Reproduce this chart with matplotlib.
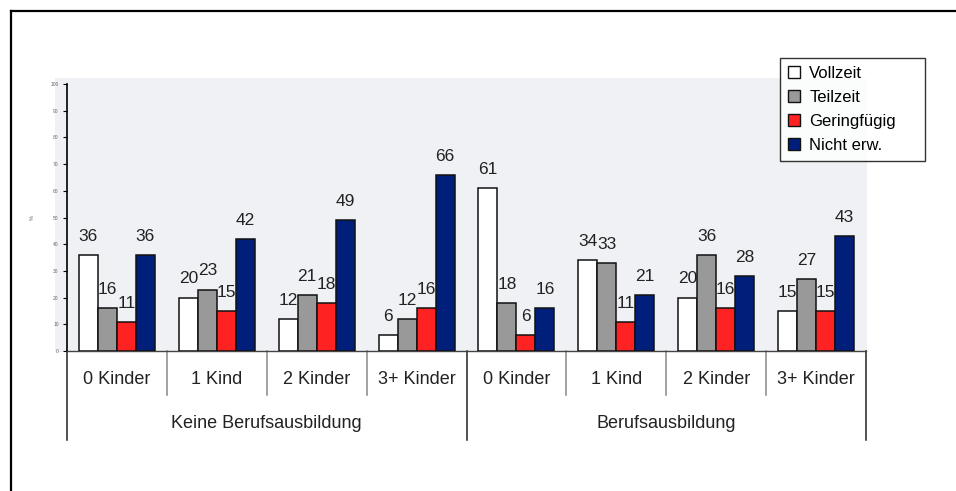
import matplotlib.pyplot as plt
from matplotlib.patches import Patch, Rectangle
from matplotlib.lines import Line2D
import numpy as np

plt.rcParams['font.family'] = ['Liberation Sans', 'DejaVu Sans']

# Daten
gruppen = ['Keine Berufsausbildung', 'Berufsausbildung']
kinder = ['0 Kinder', '1 Kind', '2 Kinder', '3+ Kinder']
serien = ['Vollzeit', 'Teilzeit', 'Geringfügig', 'Nicht erw.']
vollzeit = [36, 20, 12, 6, 61, 34, 20, 15]
teilzeit = [16, 23, 21, 12, 18, 33, 36, 27]
geringfuegig = [11, 15, 18, 16, 6, 11, 16, 15]
nicht_erw = [36, 42, 49, 66, 16, 21, 28, 43]

werte = [vollzeit, teilzeit, geringfuegig, nicht_erw]
farben = ['#ffffff', '#999999', '#ff2222', '#001f7a']
hintergrund = '#eff1f4'

W, H = 956, 491
fig = plt.figure(figsize=(W / 100, H / 100), dpi=100)
ax = fig.add_axes([67 / W, 1 - 351 / H, (866 - 67) / W, (351 - 84) / H])

# grauer Hintergrund des Diagrammbereichs
fig.patches.append(Rectangle((55 / W, 1 - 352 / H), (867 - 55) / W, (352 - 78) / H,
                             transform=fig.transFigure, facecolor=hintergrund,
                             edgecolor='none', zorder=-5))
ax.set_facecolor(hintergrund)

# äußerer Rahmen
fig.add_artist(Line2D([11 / W, 11 / W], [0, 1 - 11 / H], color='black', lw=1.6))
fig.add_artist(Line2D([11 / W, 1], [1 - 11 / H, 1 - 11 / H], color='black', lw=1.6))

x = np.arange(len(vollzeit))
breite = 0.19
for i, (serie, farbe) in enumerate(zip(serien, farben)):
    pos = x + (i - 1.5) * breite
    ax.bar(pos, werte[i], width=breite, color=farbe, edgecolor='#111111',
           linewidth=1.1, label=serie, zorder=3)
    for xp, v in zip(pos, werte[i]):
        ax.annotate(str(v), (xp, v), xytext=(0, 8), textcoords='offset points',
                    ha='center', va='bottom', fontsize=12.5, color='#222222')

ax.set_xlim(-0.5, 7.5)
ax.set_ylim(0, 100)
ax.set_yticks(range(0, 101, 10))
ax.tick_params(axis='y', labelsize=3.5, labelcolor='#666666', length=3, width=0.8,
               pad=3)
ax.set_xticks([])
ax.set_ylabel('%', fontsize=4, color='#666666', labelpad=11)
for s in ['top', 'right']:
    ax.spines[s].set_visible(False)
ax.spines['left'].set_linewidth(1.2)
ax.spines['bottom'].set_color('#444444')
ax.spines['bottom'].set_linewidth(1.0)

# Kategorien unter der Achse
trans = ax.get_xaxis_transform()
ypx = lambda py: (351 - py) / (351 - 84)
for i, k in enumerate(kinder * 2):
    ax.text(i, ypx(380), k, transform=trans, ha='center', va='center',
            fontsize=13, color='#222222')
for j, g in enumerate(gruppen):
    ax.text(1.5 + 4 * j, ypx(424), g, transform=trans, ha='center', va='center',
            fontsize=13, color='#222222')
for b in np.arange(-0.5, 8, 1.0):
    unten = 440 if b in (-0.5, 3.5, 7.5) else 395
    farbe_l = '#222222' if b in (-0.5, 3.5, 7.5) else '#888888'
    ax.add_line(Line2D([b, b], [0, ypx(unten)], transform=trans, color=farbe_l,
                       lw=1.1, clip_on=False))

handles = [Patch(facecolor=f, edgecolor='#111111', linewidth=1.0) for f in farben]
leg = fig.legend(handles, serien, loc='upper left', mode='expand',
                 bbox_to_anchor=(780 / W, 1 - 58 / H, (925 - 780) / W, 0),
                 fontsize=12, frameon=True, fancybox=False, edgecolor='black',
                 handlelength=0.75, handleheight=0.75, handletextpad=0.55,
                 labelspacing=0.55, borderpad=0.45, borderaxespad=0)
leg.get_frame().set_linewidth(1.0)
leg.get_frame().set_facecolor('white')

fig.savefig('out.png', dpi=100)
